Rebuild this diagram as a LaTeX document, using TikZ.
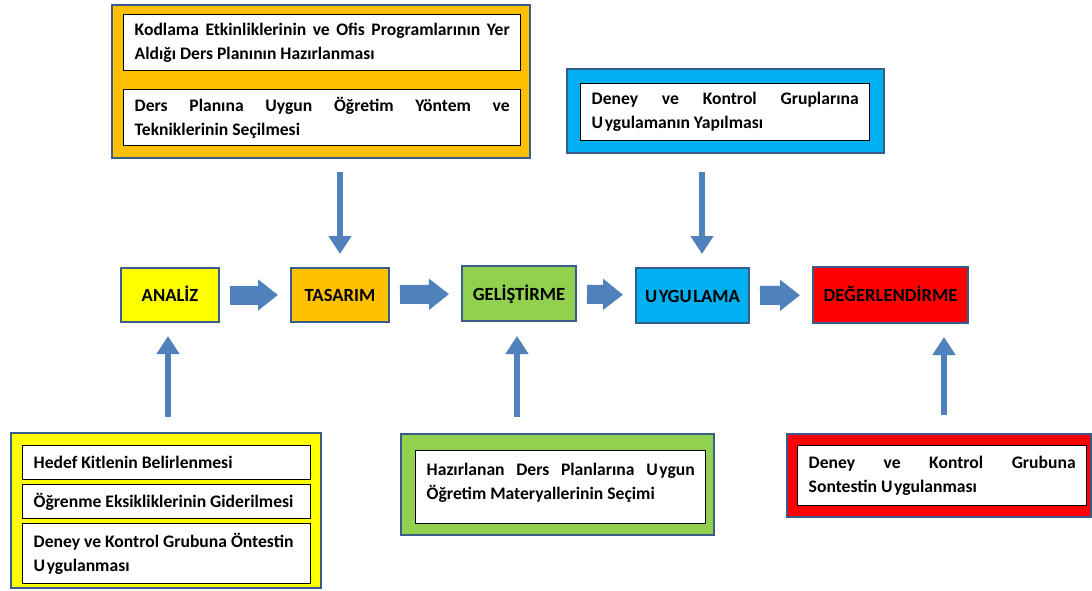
\documentclass[tikz,border=0pt]{standalone}
\usepackage{fontspec}
\setmainfont{Carlito}
\usetikzlibrary{arrows.meta}

\definecolor{frameblue}{HTML}{385D8A}
\definecolor{arrowblue}{HTML}{4F81BD}
\definecolor{addieyellow}{HTML}{FFFF00}
\definecolor{addieorange}{HTML}{FFC000}
\definecolor{addiegreen}{HTML}{92D050}
\definecolor{addiecyan}{HTML}{00B0F0}
\definecolor{addiered}{HTML}{FF0000}

\tikzset{
  outerbox/.style={draw=frameblue, line width=1.2pt},
  innerbox/.style={draw=black, line width=0.7pt, fill=white, anchor=north west,
    align=justify, inner xsep=5.5pt, inner ysep=2pt,
    font=\bfseries\fontsize{8.8}{12}\selectfont},
  stagebox/.style={draw=frameblue, line width=1pt, inner sep=0pt,
    text height=6.5pt, text depth=0pt,
    font=\bfseries\fontsize{9.3}{11}\selectfont},
  flowarrow/.style={arrowblue, line width=9.5pt,
    -{Triangle[width=15pt,length=10pt]}, shorten <=5pt, shorten >=6pt},
  feedarrow/.style={arrowblue, line width=3pt,
    -{Triangle[width=11pt,length=9pt]}}
}
\newcommand{\Ugap}{U\kern0.8pt}

\begin{document}
\begin{tikzpicture}[x=0.5pt,y=-0.5pt]
\useasboundingbox (0,0) rectangle (1092,590);

% outer frames
\draw[outerbox, fill=addieorange] (112,5) rectangle (530,158);
\coordinate (toptop) at (340,158);
\draw[outerbox, fill=addiecyan] (567,69) rectangle (884,153);
\coordinate (topuyg) at (702,153);
\draw[outerbox, fill=addieyellow] (11,433) rectangle (321,588);
\coordinate (footana) at (168,433);
\draw[outerbox, fill=addiegreen] (401,434) rectangle (714,535);
\coordinate (footgel) at (517,434);
\draw[outerbox, fill=addiered] (787,434) rectangle (1091,517);
\coordinate (footdeg) at (944,434);

% inner boxes
\node[innerbox, text width=187.5pt, minimum height=28pt] (tplan) at (123,14)
  {Kodlama Etkinliklerinin ve Ofis Programlarının Yer\linebreak Aldığı Ders Planının Hazırlanması};
\node[innerbox, text width=187.5pt, minimum height=28pt] (tmethod) at (123,89)
  {Ders Planına Uygun Öğretim Yöntem ve\linebreak Tekniklerinin Seçilmesi};
\node[innerbox, text width=133.5pt, minimum height=28.5pt] (ugroup) at (580,83)
  {Deney ve Kontrol Gruplarına\linebreak \Ugap ygulamanın Yapılması};
\node[innerbox, text width=133pt, minimum height=17pt] (ytarget) at (22,445)
  {Hedef Kitlenin Belirlenmesi};
\node[innerbox, text width=133pt, minimum height=17pt] (ygap) at (22,484)
  {Öğrenme Eksikliklerinin Giderilmesi};
\node[innerbox, text width=133pt, minimum height=30pt] (ypre) at (22,523)
  {Deney ve Kontrol Grubuna Öntestin\\ \Ugap ygulanması};
\node[innerbox, text width=134pt, minimum height=36.5pt] (gmat) at (415,450)
  {Hazırlanan Ders Planlarına \Ugap ygun\linebreak Öğretim Materyallerinin Seçimi\\[-6pt]};
\node[innerbox, text width=133.5pt, minimum height=30pt] (rpost) at (797,445)
  {Deney ve Kontrol Grubuna\linebreak Sontestin \Ugap ygulanması};

% stages
\node[stagebox, fill=addieyellow, minimum width=49pt, minimum height=27pt] (analiz) at (170,295) {ANALİZ};
\node[stagebox, fill=addieorange, minimum width=49pt, minimum height=27pt] (tasarim) at (340,295) {TASARIM};
\node[stagebox, fill=addiegreen, minimum width=57pt, minimum height=27.5pt] (gelistirme) at (519,293.5) {GELİŞTİRME};
\node[stagebox, fill=addiecyan, minimum width=56.5pt, minimum height=27.5pt] (uygulama) at (692.5,295.5) {\Ugap YGU\kern0.8pt LAMA};
\node[stagebox, fill=addiered, minimum width=77.5pt, minimum height=28pt] (degerlendirme) at (890.5,295) {DEĞERLENDİRME};

% flow
\draw[flowarrow] (analiz) -- (tasarim);
\draw[flowarrow] (tasarim) -- (gelistirme);
\draw[flowarrow] (gelistirme) -- (uygulama);
\draw[flowarrow] (uygulama) -- (degerlendirme);

% feeding arrows
\draw[feedarrow, shorten <=7pt, shorten >=6.5pt] (toptop) -- (toptop |- tasarim.north);
\draw[feedarrow, shorten <=9.5pt, shorten >=6.5pt] (topuyg) -- (topuyg |- uygulama.north);
\draw[feedarrow, shorten <=8pt, shorten >=6.5pt] (footana) -- (footana |- analiz.south);
\draw[feedarrow, shorten <=8.5pt, shorten >=7pt] (footgel) -- (footgel |- gelistirme.south);
\draw[feedarrow, shorten <=9.5pt, shorten >=6.5pt] (footdeg) -- (footdeg |- degerlendirme.south);
\end{tikzpicture}
\end{document}
